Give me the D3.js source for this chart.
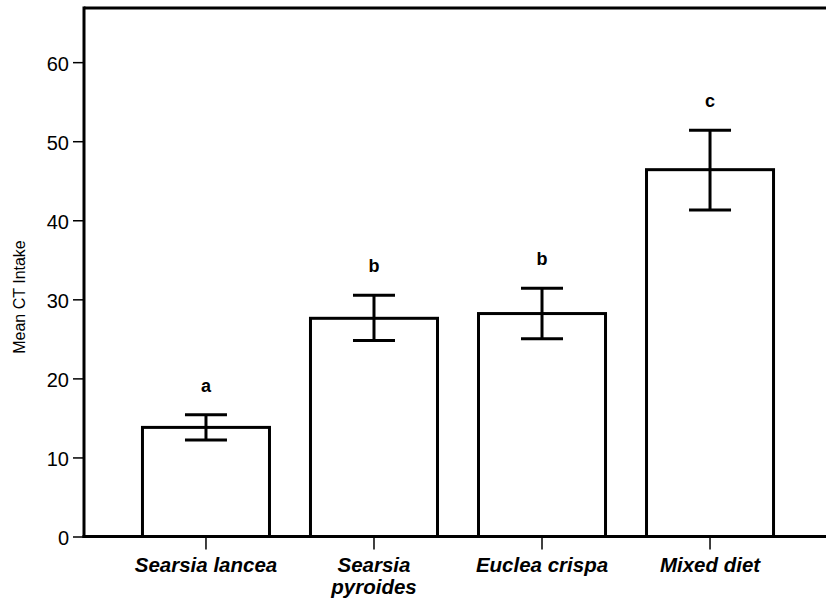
<!DOCTYPE html>
<html>
<head>
<meta charset="utf-8">
<script src="https://cdn.jsdelivr.net/npm/d3@7"></script>
<style>
  html, body { margin: 0; padding: 0; background: #fff; }
  svg { display: block; font-family: "Liberation Sans", Arial, sans-serif; }
</style>
</head>
<body>
<svg id="chart" width="826" height="601"></svg>
<script>
// Diet treatments and mean condensed tannin intake
const categories = [["Searsia lancea"], ["Searsia", "pyroides"], ["Euclea crispa"], ["Mixed diet"]];
const means = [13.8, 27.6, 28.2, 46.4];
const errLow = [12.2, 24.8, 25.0, 41.3];
const errHigh = [15.4, 30.5, 31.4, 51.4];
const groupLetters = ["a", "b", "b", "c"];
const yTicks = [0, 10, 20, 30, 40, 50, 60];

const svg = d3.select("#chart");
const plotLeft = 84, plotBottom = 536.5, plotTop = 8;

const keys = categories.map(c => c.join(" "));
const x = d3.scaleBand().domain(keys).range([plotLeft, 832]).paddingInner(0.244).paddingOuter(0.348);
const y = d3.scaleLinear().domain([0, 66.85]).range([plotBottom, plotTop]);

const lw = 3;

// Bars
svg.append("g").selectAll("rect").data(means).join("rect")
  .attr("x", (d, i) => x(keys[i]))
  .attr("y", d => y(d))
  .attr("width", x.bandwidth())
  .attr("height", d => y(0) - y(d))
  .attr("fill", "#fff")
  .attr("stroke", "#000")
  .attr("stroke-width", lw);

// Error bars
const cap = 21;
const eg = svg.append("g").attr("stroke", "#000").attr("stroke-width", lw);
means.forEach((m, i) => {
  const cx = x(keys[i]) + x.bandwidth() / 2;
  eg.append("line").attr("x1", cx).attr("x2", cx).attr("y1", y(errLow[i])).attr("y2", y(errHigh[i]));
  eg.append("line").attr("x1", cx - cap).attr("x2", cx + cap).attr("y1", y(errHigh[i])).attr("y2", y(errHigh[i]));
  eg.append("line").attr("x1", cx - cap).attr("x2", cx + cap).attr("y1", y(errLow[i])).attr("y2", y(errLow[i]));
});

// Significance letters
svg.append("g").selectAll("text").data(groupLetters).join("text")
  .attr("x", (d, i) => x(keys[i]) + x.bandwidth() / 2)
  .attr("y", (d, i) => y(errHigh[i]) - 23)
  .attr("text-anchor", "middle")
  .attr("font-size", 18)
  .attr("font-weight", "bold")
  .text(d => d);

// Frame top
svg.append("line").attr("x1", plotLeft).attr("x2", 826).attr("y1", plotTop).attr("y2", plotTop)
  .attr("stroke", "#000").attr("stroke-width", lw);

// Y axis
const yAxis = svg.append("g").attr("transform", `translate(${plotLeft},0)`)
  .call(d3.axisLeft(y).tickValues(yTicks).tickSize(11).tickPadding(4));
yAxis.select(".domain").remove();
yAxis.selectAll(".tick line").attr("stroke-width", 1.5);
yAxis.selectAll(".tick text").attr("font-size", 20).attr("fill", "#000").attr("dy", "0.42em")
  .attr("font-family", "Liberation Sans, Arial, sans-serif");
svg.append("line").attr("x1", plotLeft).attr("x2", plotLeft).attr("y1", plotTop - lw / 2).attr("y2", plotBottom + lw / 2)
  .attr("stroke", "#000").attr("stroke-width", lw);

// X axis
const xAxis = svg.append("g").attr("transform", `translate(0,${plotBottom})`)
  .call(d3.axisBottom(x).tickSize(13).tickFormat(""));
xAxis.select(".domain").remove();
xAxis.selectAll(".tick line").attr("stroke-width", 1.5);
svg.append("line").attr("x1", plotLeft - lw / 2).attr("x2", 826).attr("y1", plotBottom).attr("y2", plotBottom)
  .attr("stroke", "#000").attr("stroke-width", lw);

const xl = svg.append("g").selectAll("text").data(categories).join("text")
  .attr("x", (d, i) => x(keys[i]) + x.bandwidth() / 2)
  .attr("y", 572)
  .attr("text-anchor", "middle")
  .attr("font-size", 20.5)
  .attr("font-weight", "bold")
  .attr("font-style", "italic");
xl.each(function(d) {
  const t = d3.select(this);
  d.forEach((line, j) => {
    t.append("tspan").attr("x", t.attr("x")).attr("dy", j === 0 ? 0 : 22).text(line);
  });
});

// Y axis title
svg.append("text")
  .attr("transform", `translate(25,297) rotate(-90)`)
  .attr("text-anchor", "middle")
  .attr("font-size", 16)
  .text("Mean CT Intake");
</script>
</body>
</html>
